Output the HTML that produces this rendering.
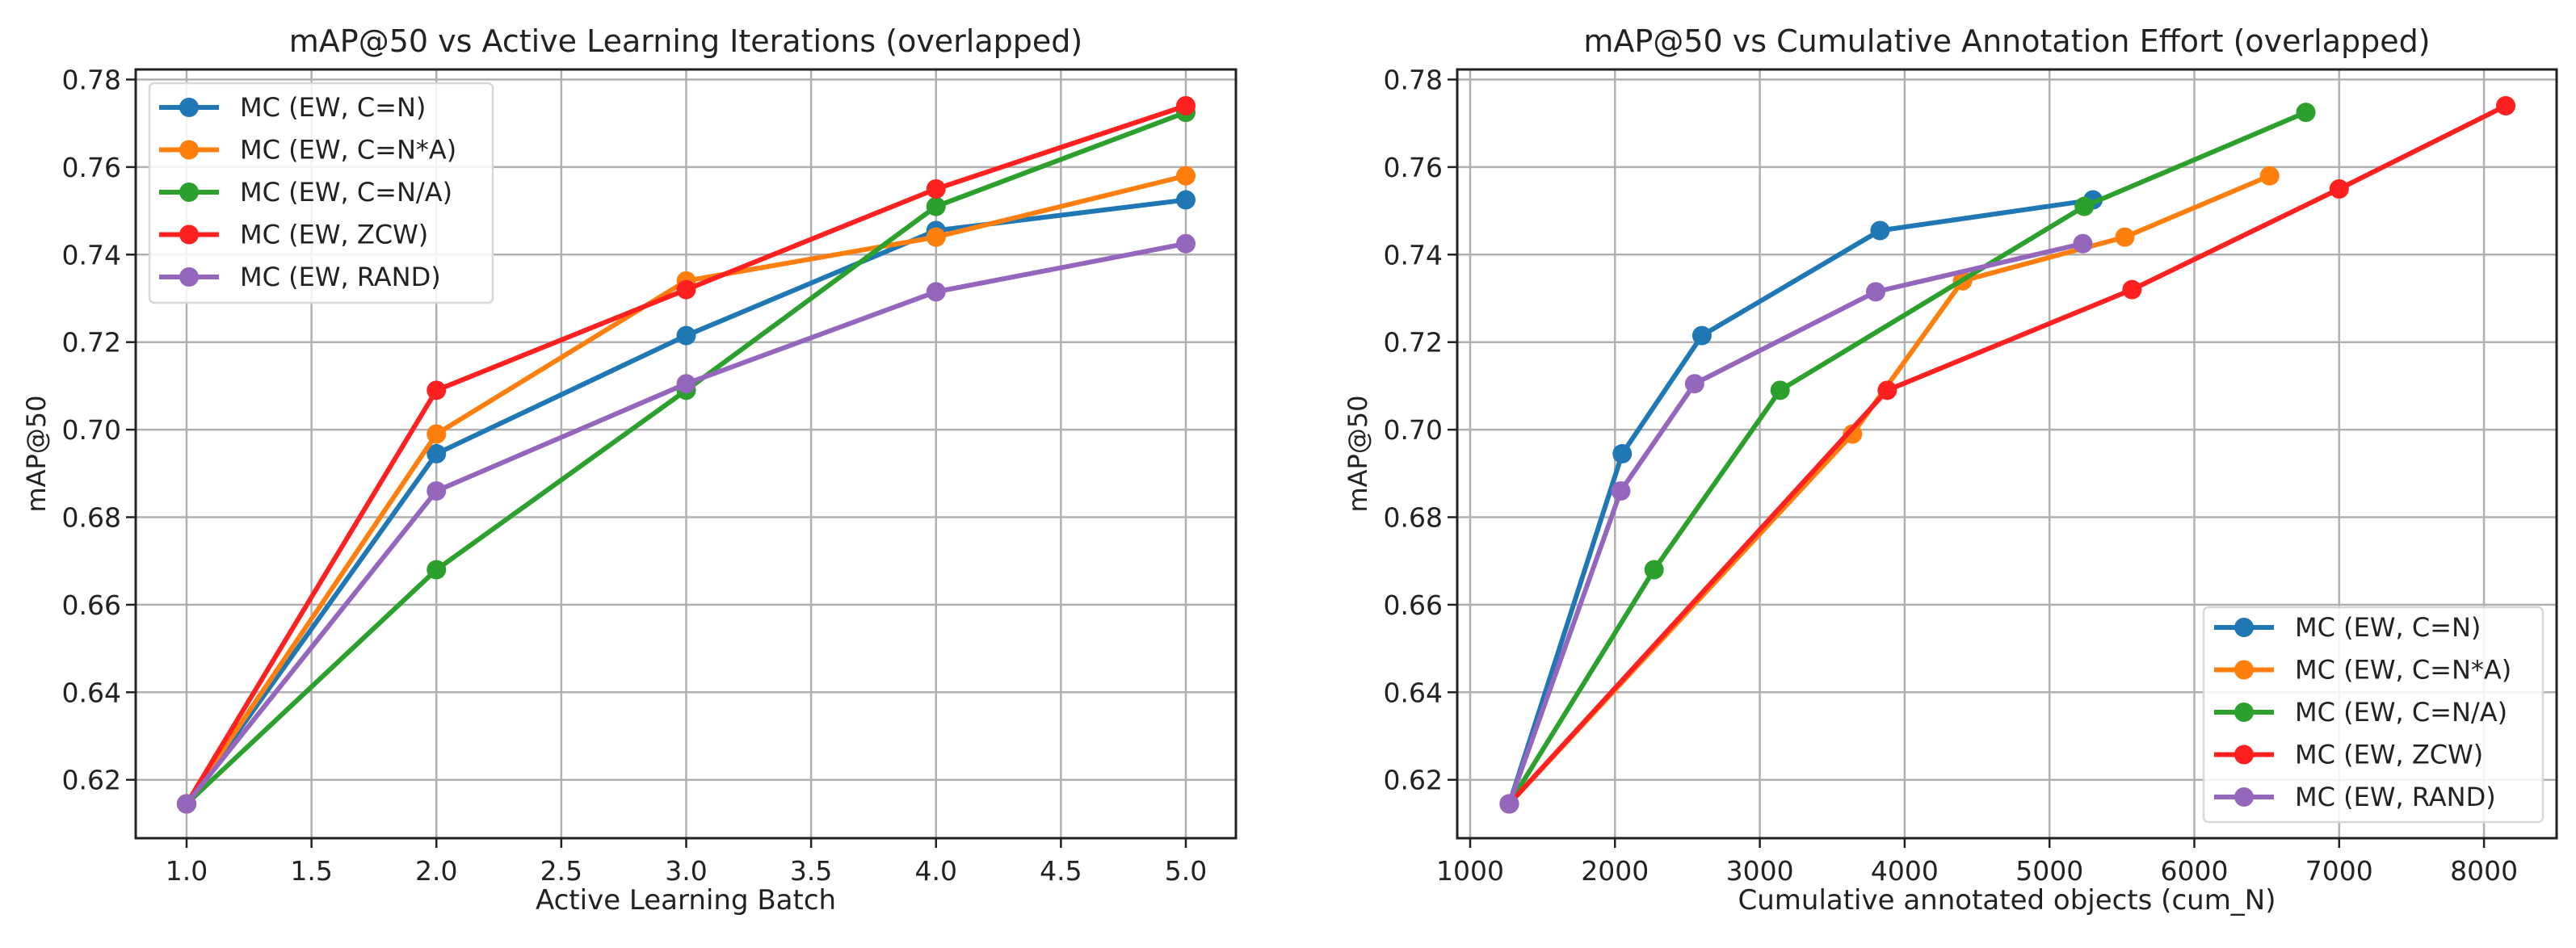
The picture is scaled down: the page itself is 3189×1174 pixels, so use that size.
<!DOCTYPE html>
<html><head><meta charset="utf-8"><style>html,body{margin:0;padding:0;background:#fff}svg{display:block}text{font-family:"DejaVu Sans","Liberation Sans",sans-serif;fill:#222}</style></head>
<body>
<svg id="fig" width="3189" height="1174" viewBox="0 0 3189 1174" xmlns="http://www.w3.org/2000/svg"></svg>
<script>
const seriesNames = ["MC (EW, C=N)","MC (EW, C=N*A)","MC (EW, C=N/A)","MC (EW, ZCW)","MC (EW, RAND)"];
const seriesColors = ["#1f77b4","#ff7f0e","#2ca02c","#ff2020","#9467bd"];
const batches = [1,2,3,4,5];
const mapCN   = [0.6145,0.6945,0.7215,0.7455,0.7525];
const mapCNA  = [0.6145,0.6990,0.7340,0.7440,0.7580];
const mapCNdA = [0.6145,0.6680,0.7090,0.7510,0.7725];
const mapZCW  = [0.6145,0.7090,0.7320,0.7550,0.7740];
const mapRAND = [0.6145,0.6860,0.7105,0.7315,0.7425];
const cumCN   = [1270,2050,2600,3830,5300];
const cumCNA  = [1270,3640,4400,5520,6520];
const cumCNdA = [1270,2270,3140,5240,6770];
const cumZCW  = [1270,3880,5570,7000,8150];
const cumRAND = [1270,2040,2550,3800,5230];
const yTicks = [0.62,0.64,0.66,0.68,0.70,0.72,0.74,0.76,0.78];
const xTicksL = [1.0,1.5,2.0,2.5,3.0,3.5,4.0,4.5,5.0];
const xTicksR = [1000,2000,3000,4000,5000,6000,7000,8000];

const NS="http://www.w3.org/2000/svg";
const svg=document.getElementById('fig');
function mk(tag,attrs,parent){const e=document.createElementNS(NS,tag);for(const k in attrs)e.setAttribute(k,attrs[k]);(parent||svg).appendChild(e);return e;}
const yScale=v=>98.5+(0.78-v)/0.02*108.4;
const xL=v=>231+(v-1)*309.25;
const xR=v=>1820+(v-1000)*0.1793;
const ys=[mapCN,mapCNA,mapCNdA,mapZCW,mapRAND];
const xsR=[cumCN,cumCNA,cumCNdA,cumZCW,cumRAND];

function panel(name,x0,x1,xs,xTicks,fmt,title,xlabel,xdata,legend){
  const g=mk('g',{});
  
  
  const top=86,bot=1038;
  yTicks.forEach(t=>{const y=yScale(t);
    const l=mk('line',{x1:x0,x2:x1,y1:y,y2:y,stroke:'#b0b0b0','stroke-width':2.5},g);
    
    mk('line',{x1:x0-12,x2:x0,y1:y,y2:y,stroke:'#222','stroke-width':2.5},g);
    const tx=mk('text',{x:x0-18,y:y+12,'font-size':33,'text-anchor':'end'},g);tx.textContent=t.toFixed(2);
    });
  xTicks.forEach(t=>{const x=xs(t);
    const l=mk('line',{x1:x,x2:x,y1:top,y2:bot,stroke:'#b0b0b0','stroke-width':2.5},g);
    
    mk('line',{x1:x,x2:x,y1:bot,y2:bot+12,stroke:'#222','stroke-width':2.5},g);
    const tx=mk('text',{x:x,y:bot+52,'font-size':33,'text-anchor':'middle'},g);tx.textContent=fmt(t);
    });
  ys.forEach((arr,i)=>{
    const pts=arr.map((v,j)=>xs(xdata[i][j])+','+yScale(v)).join(' ');
    const pl=mk('polyline',{points:pts,fill:'none',stroke:seriesColors[i],'stroke-width':6,'stroke-linejoin':'round'},g);
    
    arr.forEach((v,j)=>{const c=mk('circle',{cx:xs(xdata[i][j]),cy:yScale(v),r:12,fill:seriesColors[i]},g);
      });
  });
  const fr=mk('rect',{x:x0,y:top,width:x1-x0,height:bot-top,fill:'none',stroke:'#222','stroke-width':3},g);
  
  const tt=mk('text',{x:(x0+x1)/2,y:64,'font-size':38,'text-anchor':'middle'},g);tt.textContent=title;
  
  const xl=mk('text',{x:(x0+x1)/2,y:1126,'font-size':34,'text-anchor':'middle'},g);xl.textContent=xlabel;
  
  const yl=mk('text',{x:0,y:0,'font-size':32,'text-anchor':'middle',transform:`translate(${x0-112},${(top+bot)/2}) rotate(-90)`},g);yl.textContent='mAP@50';
  
  const lg=mk('g',{},g);
  
  mk('rect',{x:legend.x,y:legend.y,width:legend.w,height:legend.h,rx:6,fill:'#fff','fill-opacity':0.85,stroke:'#d8d8d8','stroke-width':2.5},lg);
  seriesNames.forEach((n,i)=>{const y=legend.r0+i*52.5;
    const e=mk('g',{},lg);
    
    mk('line',{x1:legend.lx,x2:legend.lx+74,y1:y,y2:y,stroke:seriesColors[i],'stroke-width':6},e);
    mk('circle',{cx:legend.lx+37,cy:y,r:12,fill:seriesColors[i]},e);
    const t=mk('text',{x:legend.lx+100,y:y+11,'font-size':32},e);t.textContent=n;});
}
panel('left-chart',168,1530,xL,xTicksL,t=>t.toFixed(1),'mAP@50 vs Active Learning Iterations (overlapped)','Active Learning Batch',ys.map(()=>batches),{x:185,y:103,w:425,h:272,r0:133,lx:197});
panel('right-chart',1804,3165,xR,xTicksR,t=>String(t),'mAP@50 vs Cumulative Annotation Effort (overlapped)','Cumulative annotated objects (cum_N)',xsR,{x:2728,y:752,w:420,h:266,r0:777,lx:2741});
</script>
</body></html>
